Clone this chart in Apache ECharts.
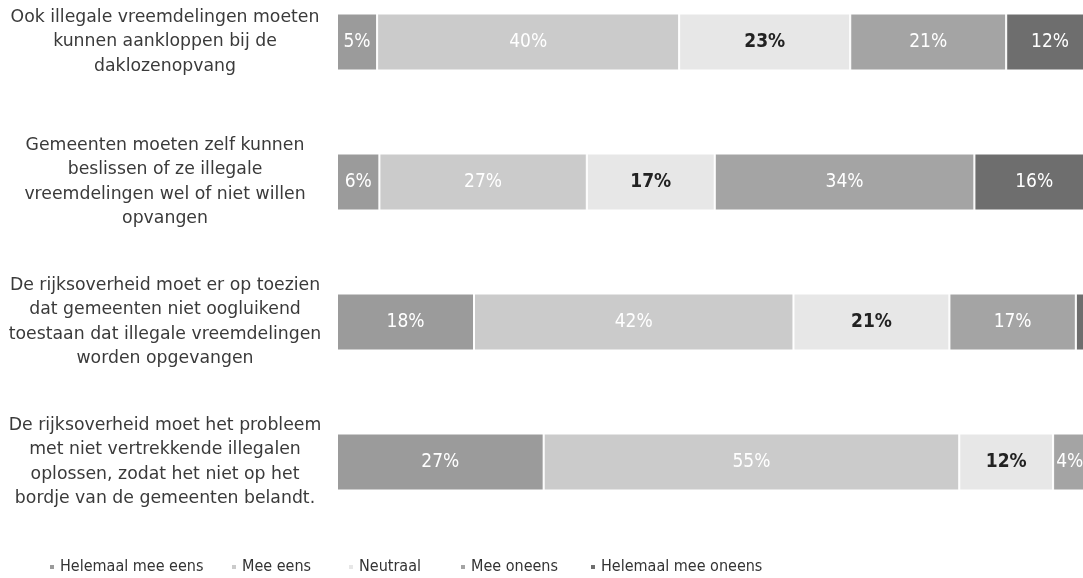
<!DOCTYPE html>
<html>
<head>
<meta charset="utf-8">
<script src="https://cdn.jsdelivr.net/npm/echarts@6/dist/echarts.min.js"></script>
<style>
html,body{margin:0;padding:0;background:#fff;overflow:hidden;width:1083px;height:578px;}
#chart{width:1094px;height:578px;}
</style>
</head>
<body>
<div id="chart"></div>
<script>
var categories = [
  "Ook illegale vreemdelingen moeten\nkunnen aankloppen bij de\ndaklozenopvang",
  "Gemeenten moeten zelf kunnen\nbeslissen of ze illegale\nvreemdelingen wel of niet willen\nopvangen",
  "De rijksoverheid moet er op toezien\ndat gemeenten niet oogluikend\ntoestaan dat illegale vreemdelingen\nworden opgevangen",
  "De rijksoverheid moet het probleem\nmet niet vertrekkende illegalen\noplossen, zodat het niet op het\nbordje van de gemeenten belandt."
];
var seriesNames = ["Helemaal mee eens", "Mee eens", "Neutraal", "Mee oneens", "Helemaal mee oneens"];
var helemaalMeeEens   = [5.3, 5.6, 18.1, 27.3];
var meeEens           = [39.9, 27.4, 42.2, 54.9];
var neutraal          = [22.6, 16.9, 20.6, 12.4];
var meeOneens         = [20.6, 34.3, 16.7, 4.4];
var helemaalMeeOneens = [11.6, 15.8, 2.4, 1.0];

var values = [helemaalMeeEens, meeEens, neutraal, meeOneens, helemaalMeeOneens];
var colors = ["#9b9b9b", "#cbcbcb", "#e7e7e7", "#a4a4a4", "#6e6e6e"];
var legendLeft = [48, 230, 347, 459, 589];

var chart = echarts.init(document.getElementById('chart'), null, {renderer: 'canvas'});

var series = seriesNames.map(function (name, i) {
  var neutral = (name === "Neutraal");
  return {
    name: name,
    type: 'bar',
    stack: 'total',
    barWidth: 57,
    data: values[i],
    itemStyle: {color: colors[i], borderColor: '#ffffff', borderWidth: 1},
    label: {
      show: true,
      position: 'inside',
      color: neutral ? '#222222' : '#ffffff',
      fontWeight: neutral ? 'bold' : 'normal',
      fontFamily: 'DejaVu Sans Condensed, DejaVu Sans, sans-serif',
      fontSize: 19,
      formatter: function (p) { return p.value < 3 ? '' : Math.round(p.value) + '%'; }
    },
    emphasis: {disabled: true}
  };
});

var legends = seriesNames.map(function (name, i) {
  return {
    data: [name],
    left: legendLeft[i],
    top: 559,
    icon: 'rect',
    itemWidth: 6,
    itemHeight: 6,
    itemGap: 0,
    padding: 0,
    selectedMode: false,
    textStyle: {
      color: '#333333',
      fontSize: 16,
      fontFamily: 'DejaVu Sans Condensed, DejaVu Sans, sans-serif'
    }
  };
});

chart.setOption({
  backgroundColor: '#ffffff',
  animation: false,
  legend: legends,
  grid: {left: 337, right: 0, top: 42, height: 420, containLabel: false},
  xAxis: {type: 'value', min: 0, max: 100, show: false},
  yAxis: {
    type: 'category',
    inverse: true,
    boundaryGap: false,
    data: categories,
    axisLine: {show: false},
    axisTick: {show: false},
    splitLine: {show: false},
    axisLabel: {
      margin: 172,
      align: 'center',
      color: '#3a3a3a',
      fontSize: 17.3,
      lineHeight: 24.5,
      fontFamily: 'DejaVu Sans, sans-serif'
    }
  },
  series: series
});
</script>
</body>
</html>
